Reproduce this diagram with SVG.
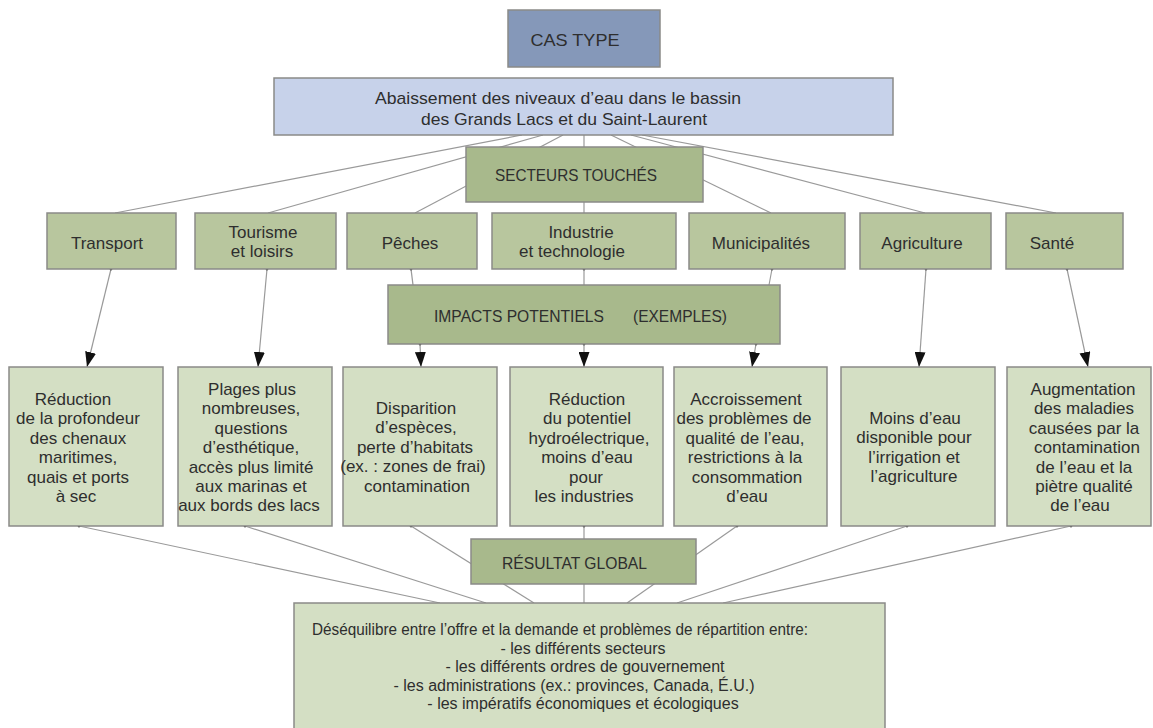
<svg xmlns="http://www.w3.org/2000/svg" width="1153" height="728" viewBox="0 0 1153 728">
<style>
  text { font-family: "Liberation Sans", Arial, sans-serif; fill: #2e2e2e; font-size: 17px; text-anchor: middle; }
  .box { stroke: #8a8a88; stroke-width: 1.5; }
  .cas { fill: #8598b9; }
  .top { fill: #c7d2ea; }
  .hdr { fill: #a8b98c; }
  .sec { fill: #b8c69e; }
  .res { fill: #d4dfc4; }
  .conn line { stroke: #9a9a9a; stroke-width: 1.2; fill: none; }
  .arr { marker-end: url(#ah); marker-start: url(#dot); }
  .dt { marker-start: url(#dot); }
  .small { font-size: 16px; }
</style>
<defs>
  <marker id="ah" markerUnits="userSpaceOnUse" markerWidth="16" markerHeight="11" refX="15" refY="5.5" orient="auto">
    <path d="M0,0 L15,5.5 L0,11 z" fill="#111"/>
  </marker>
  <marker id="dot" markerUnits="userSpaceOnUse" markerWidth="4" markerHeight="4" refX="2" refY="2">
    <circle cx="2" cy="2" r="1.4" fill="#333"/>
  </marker>
</defs>
<rect width="1153" height="728" fill="#ffffff"/>

<g id="connectors" class="conn">
  <line x1="522" y1="135" x2="115" y2="213"/>
  <line x1="543" y1="135" x2="268" y2="213"/>
  <line x1="563" y1="135" x2="415" y2="213"/>
  <line x1="584" y1="135" x2="584" y2="213"/>
  <line x1="611" y1="135" x2="771" y2="213"/>
  <line x1="631" y1="135" x2="925" y2="213"/>
  <line x1="642" y1="135" x2="1056" y2="213"/>

  <line class="arr" x1="111" y1="269" x2="87" y2="367"/>
  <line class="arr" x1="267" y1="269" x2="258" y2="367"/>
  <line class="dt" x1="411" y1="269" x2="413" y2="285"/>
  <line class="arr" x1="420" y1="344" x2="421" y2="367"/>
  <line class="dt" x1="584" y1="269" x2="584" y2="285"/>
  <line class="arr" x1="584" y1="344" x2="584" y2="367"/>
  <line class="dt" x1="772" y1="269" x2="769" y2="285"/>
  <line class="arr" x1="756" y1="344" x2="752" y2="367"/>
  <line class="arr" x1="926" y1="269" x2="919" y2="367"/>
  <line class="arr" x1="1067" y1="269" x2="1088" y2="367"/>

  <line class="dt" x1="79" y1="526" x2="440" y2="603"/>
  <line class="dt" x1="245" y1="526" x2="486" y2="603"/>
  <line class="dt" x1="411" y1="526" x2="534" y2="603"/>
  <line class="dt" x1="584" y1="526" x2="584" y2="603"/>
  <line class="dt" x1="737" y1="526" x2="627" y2="603"/>
  <line class="dt" x1="907" y1="526" x2="677" y2="603"/>
  <line class="dt" x1="1071" y1="526" x2="723" y2="603"/>
</g>

<g id="cas-type">
  <rect class="box cas" x="508" y="10" width="152" height="57"/>
  <text x="575" y="46" textLength="89" lengthAdjust="spacingAndGlyphs">CAS TYPE</text>
</g>
<g id="abaissement">
  <rect class="box top" x="274" y="78" width="619" height="57"/>
  <text x="558" y="104" font-size="17.5" textLength="366" lengthAdjust="spacingAndGlyphs">Abaissement des niveaux d’eau dans le bassin</text>
  <text x="564" y="125" font-size="17.5" textLength="286" lengthAdjust="spacingAndGlyphs">des Grands Lacs et du Saint-Laurent</text>
</g>
<g id="secteurs">
  <rect class="box hdr" x="466" y="147" width="237" height="55"/>
  <text x="576" y="181" textLength="162" lengthAdjust="spacingAndGlyphs">SECTEURS TOUCHÉS</text>
</g>

<g id="transport">
  <rect class="box sec" x="47" y="213" width="129" height="56"/>
  <text x="107" y="249">Transport</text>
</g>
<g id="tourisme">
  <rect class="box sec" x="195" y="213" width="141" height="56"/>
  <text x="263" y="238">Tourisme</text>
  <text x="262" y="257">et loisirs</text>
</g>
<g id="peches">
  <rect class="box sec" x="347" y="213" width="130" height="56"/>
  <text x="410" y="249">Pêches</text>
</g>
<g id="industrie">
  <rect class="box sec" x="492" y="213" width="184" height="56"/>
  <text x="581" y="238">Industrie</text>
  <text x="572" y="257">et technologie</text>
</g>
<g id="municipalites">
  <rect class="box sec" x="689" y="213" width="156" height="56"/>
  <text x="761" y="249">Municipalités</text>
</g>
<g id="agriculture">
  <rect class="box sec" x="860" y="213" width="131" height="56"/>
  <text x="922" y="249">Agriculture</text>
</g>
<g id="sante">
  <rect class="box sec" x="1006" y="213" width="117" height="56"/>
  <text x="1052" y="249">Santé</text>
</g>

<g id="impacts">
  <rect class="box hdr" x="388" y="285" width="392" height="59"/>
  <text x="434" y="322" style="text-anchor:start" textLength="170" lengthAdjust="spacingAndGlyphs">IMPACTS POTENTIELS</text>
  <text x="633" y="322" style="text-anchor:start" textLength="94" lengthAdjust="spacingAndGlyphs">(EXEMPLES)</text>
</g>

<g id="res-transport">
  <rect class="box res" x="9" y="367" width="154" height="159"/>
  <text x="73" y="405">Réduction</text>
  <text x="78" y="424.4">de la profondeur</text>
  <text x="78" y="443.8">des chenaux</text>
  <text x="78" y="463.2">maritimes,</text>
  <text x="78" y="482.6">quais et ports</text>
  <text x="76" y="502">à sec</text>
</g>
<g id="res-tourisme">
  <rect class="box res" x="178" y="367" width="154" height="159"/>
  <text x="252" y="395">Plages plus</text>
  <text x="251" y="414.4">nombreuses,</text>
  <text x="251" y="433.8">questions</text>
  <text x="251" y="453.2">d’esthétique,</text>
  <text x="251" y="472.6">accès plus limité</text>
  <text x="251" y="492">aux marinas et</text>
  <text x="249" y="511.4">aux bords des lacs</text>
</g>
<g id="res-peches">
  <rect class="box res" x="343" y="367" width="154" height="159"/>
  <text x="416" y="414">Disparition</text>
  <text x="416" y="433.4">d’espèces,</text>
  <text x="415" y="452.8">perte d’habitats</text>
  <text x="413" y="472.2">(ex. : zones de frai)</text>
  <text x="417" y="491.6">contamination</text>
</g>
<g id="res-industrie">
  <rect class="box res" x="510" y="367" width="153" height="159"/>
  <text x="587" y="405">Réduction</text>
  <text x="587" y="424.4">du potentiel</text>
  <text x="589" y="443.8">hydroélectrique,</text>
  <text x="587" y="463.2">moins d’eau</text>
  <text x="586" y="482.6">pour</text>
  <text x="584" y="502">les industries</text>
</g>
<g id="res-municipalites">
  <rect class="box res" x="674" y="367" width="153" height="159"/>
  <text x="746" y="405">Accroissement</text>
  <text x="744" y="424.4">des problèmes de</text>
  <text x="745" y="443.8">qualité de l’eau,</text>
  <text x="745" y="463.2">restrictions à la</text>
  <text x="747" y="482.6">consommation</text>
  <text x="747" y="502">d’eau</text>
</g>
<g id="res-agriculture">
  <rect class="box res" x="841" y="367" width="154" height="159"/>
  <text x="915" y="424">Moins d’eau</text>
  <text x="914" y="443.4">disponible pour</text>
  <text x="914" y="462.8">l’irrigation et</text>
  <text x="914" y="482.2">l’agriculture</text>
</g>
<g id="res-sante">
  <rect class="box res" x="1007" y="367" width="144" height="159"/>
  <text x="1083" y="395">Augmentation</text>
  <text x="1084" y="414.4">des maladies</text>
  <text x="1084" y="433.8">causées par la</text>
  <text x="1087" y="453.2">contamination</text>
  <text x="1084" y="472.6">de l’eau et la</text>
  <text x="1084" y="492">piètre qualité</text>
  <text x="1080" y="511.4">de l’eau</text>
</g>

<g id="resultat">
  <rect class="box hdr" x="471" y="539" width="225" height="45"/>
  <text x="574.5" y="569" textLength="145" lengthAdjust="spacingAndGlyphs">RÉSULTAT GLOBAL</text>
</g>
<g id="desequilibre">
  <rect class="box res" x="294" y="603" width="591" height="130"/>
  <text class="small" x="560" y="635" textLength="496" lengthAdjust="spacingAndGlyphs">Déséquilibre entre l’offre et la demande et problèmes de répartition entre:</text>
  <text class="small" x="583" y="653.6">- les différents secteurs</text>
  <text class="small" x="585" y="672.2">- les différents ordres de gouvernement</text>
  <text class="small" x="574" y="690.8">- les administrations (ex.: provinces, Canada, É.U.)</text>
  <text class="small" x="583" y="709.4">- les impératifs économiques et écologiques</text>
</g>
</svg>
